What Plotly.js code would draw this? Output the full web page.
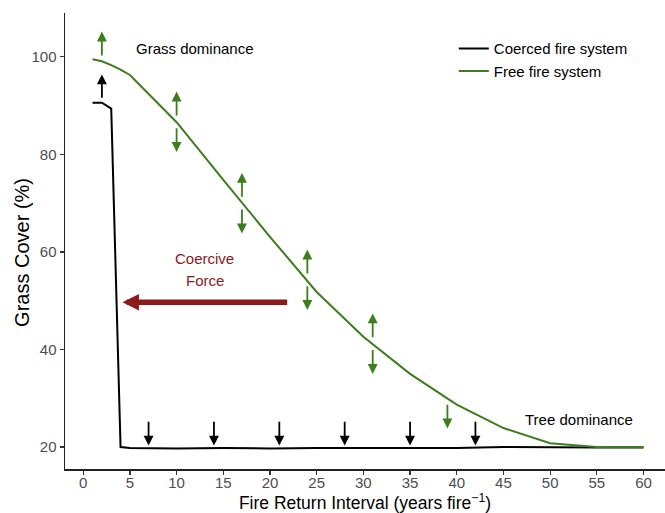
<!DOCTYPE html>
<html>
<head>
<meta charset="utf-8">
<script src="https://cdn.plot.ly/plotly-3.0.1.min.js"></script>
<style>html,body{margin:0;padding:0;background:#fff;}#chart{width:665px;height:513px;}</style>
</head>
<body>
<div id="chart"></div>
<script>
// ---- data ----
const fireInterval = [1, 2, 3, 4, 5, 10, 15, 20, 25, 30, 35, 40, 45, 50, 55, 60];
const coercedCover = [90.6, 90.6, 89.4, 20.0, 19.8, 19.7, 19.8, 19.7, 19.8, 19.8, 19.7, 19.8, 20.0, 19.9, 19.9, 19.9];
const freeCover    = [99.5, 99.1, 98.3, 97.4, 96.3, 86.6, 74.8, 63.1, 51.8, 42.6, 35.0, 28.7, 23.9, 20.8, 20.0, 20.0];

const seriesNames = ['Coerced fire system', 'Free fire system'];
const xTickVals = [0, 5, 10, 15, 20, 25, 30, 35, 40, 45, 50, 55, 60];
const yTickVals = [20, 40, 60, 80, 100];

// arrows (positions on the curves)
const greenArrowX    = [2, 10, 17, 24, 31, 39];
const greenArrowBase = [99.0, 86.7, 70.0, 54.3, 41.2, 30.0];
const greenArrowUp   = [true, true, true, true, true, false];
const greenArrowDown = [false, true, true, true, true, true];
const blackUpX       = [2];
const blackUpBase    = [90.5];
const blackDownX     = [7, 14, 21, 28, 35, 42];
const blackDownBase  = [19.7, 19.7, 19.7, 19.7, 19.7, 19.7];

// coercive force arrow: from / to interval, at cover level
const forceFrom = 22.0, forceTo = 4.2, forceLevel = 49.7;

// ---- styles ----
const GREEN = '#3E7D1E';
const BLACK = '#000000';
const RED = '#8B1A1A';
const FONT = 'Liberation Sans, Arial, Helvetica, sans-serif';

const traces = [
  {x: fireInterval, y: coercedCover, name: seriesNames[0], mode: 'lines',
   line: {color: BLACK, width: 2}},
  {x: fireInterval, y: freeCover, name: seriesNames[1], mode: 'lines',
   line: {color: GREEN, width: 2}}
];

function arrow(x, tail, tip, color, w, size) {
  return {x: x, y: tip, ax: x, ay: tail, xref: 'x', yref: 'y', axref: 'x', ayref: 'y',
          text: '', showarrow: true, arrowhead: 2, arrowsize: size, arrowwidth: w,
          arrowcolor: color, standoff: 0, startstandoff: 0};
}

const annotations = [];
greenArrowX.forEach((x, i) => {
  const b = greenArrowBase[i];
  if (greenArrowUp[i]) annotations.push(arrow(x, b + 1.0, b + 6.2, GREEN, 1.8, 1.1));
  if (greenArrowDown[i]) annotations.push(arrow(x, b - 1.0, b - 6.2, GREEN, 1.8, 1.1));
});
blackUpX.forEach((x, i) => {
  const b = blackUpBase[i];
  annotations.push(arrow(x, b + 0.8, b + 5.9, BLACK, 1.8, 1.1));
});
blackDownX.forEach((x, i) => {
  const b = blackDownBase[i];
  annotations.push(arrow(x, b + 5.8, b + 0.6, BLACK, 1.8, 1.1));
});
annotations.push({x: forceTo, y: forceLevel, ax: forceFrom, ay: forceLevel,
  xref: 'x', yref: 'y', axref: 'x', ayref: 'y', text: '', showarrow: true,
  arrowhead: 2, arrowsize: 0.6, arrowwidth: 5.5, arrowcolor: RED, standoff: 0});

annotations.push({x: 13.0, y: 58.6, xref: 'x', yref: 'y', text: 'Coercive', showarrow: false,
  font: {family: FONT, size: 15, color: RED}});
annotations.push({x: 13.0, y: 54.1, xref: 'x', yref: 'y', text: 'Force', showarrow: false,
  font: {family: FONT, size: 15, color: RED}});
annotations.push({x: 12.0, y: 101.8, xref: 'x', yref: 'y', text: 'Grass dominance', showarrow: false,
  font: {family: FONT, size: 15, color: '#000'}});
annotations.push({x: 53.1, y: 25.7, xref: 'x', yref: 'y', text: 'Tree dominance', showarrow: false,
  font: {family: FONT, size: 15, color: '#000'}});
// y-axis title (placed as in the reference, slightly below panel centre)
annotations.push({x: -0.0717, y: 0.476, xref: 'paper', yref: 'paper', xanchor: 'center', yanchor: 'middle',
  text: 'Grass Cover (%)', textangle: -90, showarrow: false,
  font: {family: FONT, size: 20, color: '#000'}});

const layout = {
  width: 665, height: 513,
  margin: {l: 65, r: 0, t: 13, b: 44, pad: 0},
  paper_bgcolor: '#fff', plot_bgcolor: '#fff',
  font: {family: FONT, size: 15, color: '#000'},
  showlegend: true,
  legend: {x: 0.648, y: 0.958, xanchor: 'left', yanchor: 'top', bgcolor: 'rgba(0,0,0,0)',
           borderwidth: 0, itemwidth: 30, font: {family: FONT, size: 15, color: '#000'},
           tracegroupgap: 0},
  xaxis: {range: [-1.95, 62.3], tickvals: xTickVals, showgrid: false, zeroline: false,
          showline: true, linecolor: '#222', linewidth: 1.5, ticks: 'outside', ticklen: 4,
          tickwidth: 1.2, tickcolor: '#333', ticklabelstandoff: -5,
          tickfont: {family: FONT, size: 15, color: '#4D4D4D'},
          title: {text: 'Fire Return Interval (years fire<sup>\u22121</sup>)',
                  font: {family: FONT, size: 17.5, color: '#000'}, standoff: 14}},
  yaxis: {range: [15.5, 109], tickvals: yTickVals, showgrid: false, zeroline: false,
          showline: true, linecolor: '#222', linewidth: 1.5, ticks: 'outside', ticklen: 4,
          tickwidth: 1.2, tickcolor: '#333', tickfont: {family: FONT, size: 15, color: '#4D4D4D'}},
  annotations: annotations
};

Plotly.newPlot('chart', traces, layout, {displayModeBar: false, staticPlot: true});
</script>
</body>
</html>
